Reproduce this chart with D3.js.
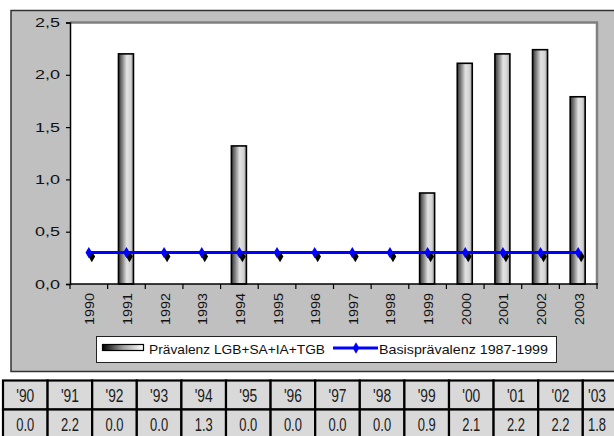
<!DOCTYPE html>
<html>
<head>
<meta charset="utf-8">
<script src="https://cdn.jsdelivr.net/npm/d3@7"></script>
<style>
  html, body { margin: 0; padding: 0; background: #fff; }
  svg { display: block; }
  text { font-family: "Liberation Sans", Arial, sans-serif; }
</style>
</head>
<body>
<svg id="chart" width="614" height="436"></svg>
<script>
// ---- data ----
const years = ["1990","1991","1992","1993","1994","1995","1996","1997","1998","1999","2000","2001","2002","2003"];
const prevalence = [0, 2.2, 0, 0, 1.32, 0, 0, 0, 0, 0.87, 2.11, 2.2, 2.24, 1.79];
const baseline = [0.3, 0.3, 0.3, 0.3, 0.3, 0.3, 0.3, 0.3, 0.3, 0.3, 0.3, 0.3, 0.3, 0.3];
const yTicks = [0, 0.5, 1.0, 1.5, 2.0, 2.5];
const tableLabels = ["'90","'91","'92","'93","'94","'95","'96","'97","'98","'99","'00","'01","'02","'03"];
const tableValues = ["0.0","2.2","0.0","0.0","1.3","0.0","0.0","0.0","0.0","0.9","2.1","2.2","2.2","1.8"];
const seriesNames = ["Prävalenz LGB+SA+IA+TGB", "Basisprävalenz 1987-1999"];

const W = 614;
const svg = d3.select("#chart");

// gradients
const defs = svg.append("defs");
const g1 = defs.append("linearGradient").attr("id","barGrad").attr("x1","0").attr("x2","1").attr("y1","0").attr("y2","0");
[[0,"#333"],[0.25,"#808080"],[0.55,"#e2e2e2"],[0.8,"#d4d4d4"],[1,"#9a9a9a"]].forEach(([o,c]) =>
  g1.append("stop").attr("offset", o).attr("stop-color", c));
const g2 = defs.append("linearGradient").attr("id","legGrad").attr("x1","0").attr("x2","1").attr("y1","0").attr("y2","0");
[[0,"#000"],[0.5,"#a0a0a0"],[1,"#fff"]].forEach(([o,c]) =>
  g2.append("stop").attr("offset", o).attr("stop-color", c));

// outer chart area
svg.append("rect").attr("x", 11).attr("y", 10.5).attr("width", 640).attr("height", 361)
  .attr("fill", "#c0c0c0").attr("stroke", "#333").attr("stroke-width", 1.5);

// plot area
const pl = 70, pr = 597, pt = 22.5, pb = 284;
svg.append("rect").attr("x", pl).attr("y", pt).attr("width", pr - pl).attr("height", pb - pt)
  .attr("fill", "#fff");
svg.append("path").attr("d", `M${pl},${pt}H${pr}V${pb}`).attr("fill","none")
  .attr("stroke", "#808080").attr("stroke-width", 2.5);

const x = d3.scaleBand().domain(years).range([pl, pr]).paddingInner(0).paddingOuter(0);
const y = d3.scaleLinear().domain([0, 2.5]).range([pb, pt]);

// bars
const bw = 15;
svg.append("g").selectAll("rect").data(years.map((yr,i)=>({yr, v: prevalence[i]})))
  .join("rect")
  .attr("x", d => x(d.yr) + x.bandwidth()/2 - bw/2 - 0.5)
  .attr("y", d => y(d.v))
  .attr("width", bw)
  .attr("height", d => y(0) - y(d.v))
  .attr("fill", "url(#barGrad)")
  .attr("stroke", d => d.v > 0 ? "#000" : "none")
  .attr("stroke-width", 1.6);

// y axis
const yAxis = d3.axisLeft(y).tickValues(yTicks).tickSize(4).tickPadding(6)
  .tickFormat(d => d3.format(".1f")(d).replace(".", ","));
const ya = svg.append("g").attr("transform", `translate(${pl},0)`).call(yAxis);
ya.select(".domain").attr("stroke", "#000").attr("stroke-width", 1.5);
ya.selectAll(".tick line").attr("stroke", "#000").attr("stroke-width", 1.2);
ya.selectAll(".tick text").attr("font-size", 12.5).attr("fill", "#111")
  .attr("textLength", 25).attr("lengthAdjust", "spacingAndGlyphs").attr("x", -10);

// x axis
const xa = svg.append("g").attr("transform", `translate(0,${pb})`);
xa.append("line").attr("x1", pl).attr("x2", pr + 1).attr("y1", 0).attr("y2", 0)
  .attr("stroke", "#000").attr("stroke-width", 1.5);
xa.selectAll("line.tk").data(years.concat(["end"])).join("line").attr("class","tk")
  .attr("x1", (d,i) => pl + i * x.step()).attr("x2", (d,i) => pl + i * x.step())
  .attr("y1", 0).attr("y2", 5).attr("stroke", "#000").attr("stroke-width", 1.2);
xa.selectAll("text").data(years).join("text")
  .attr("transform", d => `translate(${x(d) + x.bandwidth()/2 + 1},9) rotate(-90)`)
  .attr("text-anchor", "end").attr("dy", "0.36em")
  .attr("font-size", 12.5).attr("fill", "#111")
  .attr("textLength", 32).attr("lengthAdjust", "spacingAndGlyphs")
  .text(d => d);

// baseline line
const line = d3.line().x((d,i) => x(years[i]) + x.bandwidth()/2).y(d => y(d));
const diamond = d3.symbol().type(d3.symbolDiamond).size(38);
svg.append("g").selectAll("path").data(baseline).join("path")
  .attr("d", diamond)
  .attr("transform", (d,i) => `translate(${x(years[i]) + x.bandwidth()/2 + 3},${y(d) + 4})`)
  .attr("fill", "#000");
svg.append("path").datum(baseline).attr("d", line)
  .attr("fill", "none").attr("stroke", "#0000ff").attr("stroke-width", 3);
svg.append("g").selectAll("path").data(baseline).join("path")
  .attr("d", diamond)
  .attr("transform", (d,i) => `translate(${x(years[i]) + x.bandwidth()/2},${y(d)})`)
  .attr("fill", "#0000ff");

// legend
const lg = svg.append("g");
lg.append("rect").attr("x", 96.5).attr("y", 336.5).attr("width", 460).attr("height", 26)
  .attr("fill", "#fff").attr("stroke", "#222").attr("stroke-width", 1);
lg.append("rect").attr("x", 102.5).attr("y", 344.5).attr("width", 41).attr("height", 6)
  .attr("fill", "url(#legGrad)").attr("stroke", "#000").attr("stroke-width", 1.2);
lg.append("text").attr("x", 149).attr("y", 354).attr("font-size", 13).attr("fill", "#111")
  .attr("textLength", 176).attr("lengthAdjust", "spacingAndGlyphs").text(seriesNames[0]);
lg.append("line").attr("x1", 333).attr("x2", 378).attr("y1", 348).attr("y2", 348)
  .attr("stroke", "#0000ff").attr("stroke-width", 3);
lg.append("path").attr("d", diamond).attr("transform", "translate(356,348)").attr("fill", "#0000ff");
lg.append("text").attr("x", 379).attr("y", 354).attr("font-size", 13).attr("fill", "#111")
  .attr("textLength", 169).attr("lengthAdjust", "spacingAndGlyphs").text(seriesNames[1]);

// data table
const cw = 44.6, tx0 = 3, ty0 = 380.5, rh = 29;
const rowBase = [21.5, 21];
const tbl = svg.append("g");
const rows = [tableLabels, tableValues];
rows.forEach((row, r) => {
  tbl.selectAll(`rect.r${r}`).data(row).join("rect").attr("class", `r${r}`)
    .attr("x", (d,i) => tx0 + i * cw).attr("y", ty0 + r * rh)
    .attr("width", cw).attr("height", rh + (r === 1 ? 10 : 0))
    .attr("fill", "#d9d9d9").attr("stroke", "#000").attr("stroke-width", 2.2);
  tbl.selectAll(`text.r${r}`).data(row).join("text").attr("class", `r${r}`)
    .attr("x", (d,i) => Math.min(tx0 + i * cw + cw/2, W - 17))
    .attr("y", ty0 + r * rh + rowBase[r])
    .attr("text-anchor", "middle").attr("font-size", 18.5).attr("fill", "#1a1a1a")
    .attr("textLength", 18).attr("lengthAdjust", "spacingAndGlyphs")
    .text(d => d);
});
</script>
</body>
</html>
